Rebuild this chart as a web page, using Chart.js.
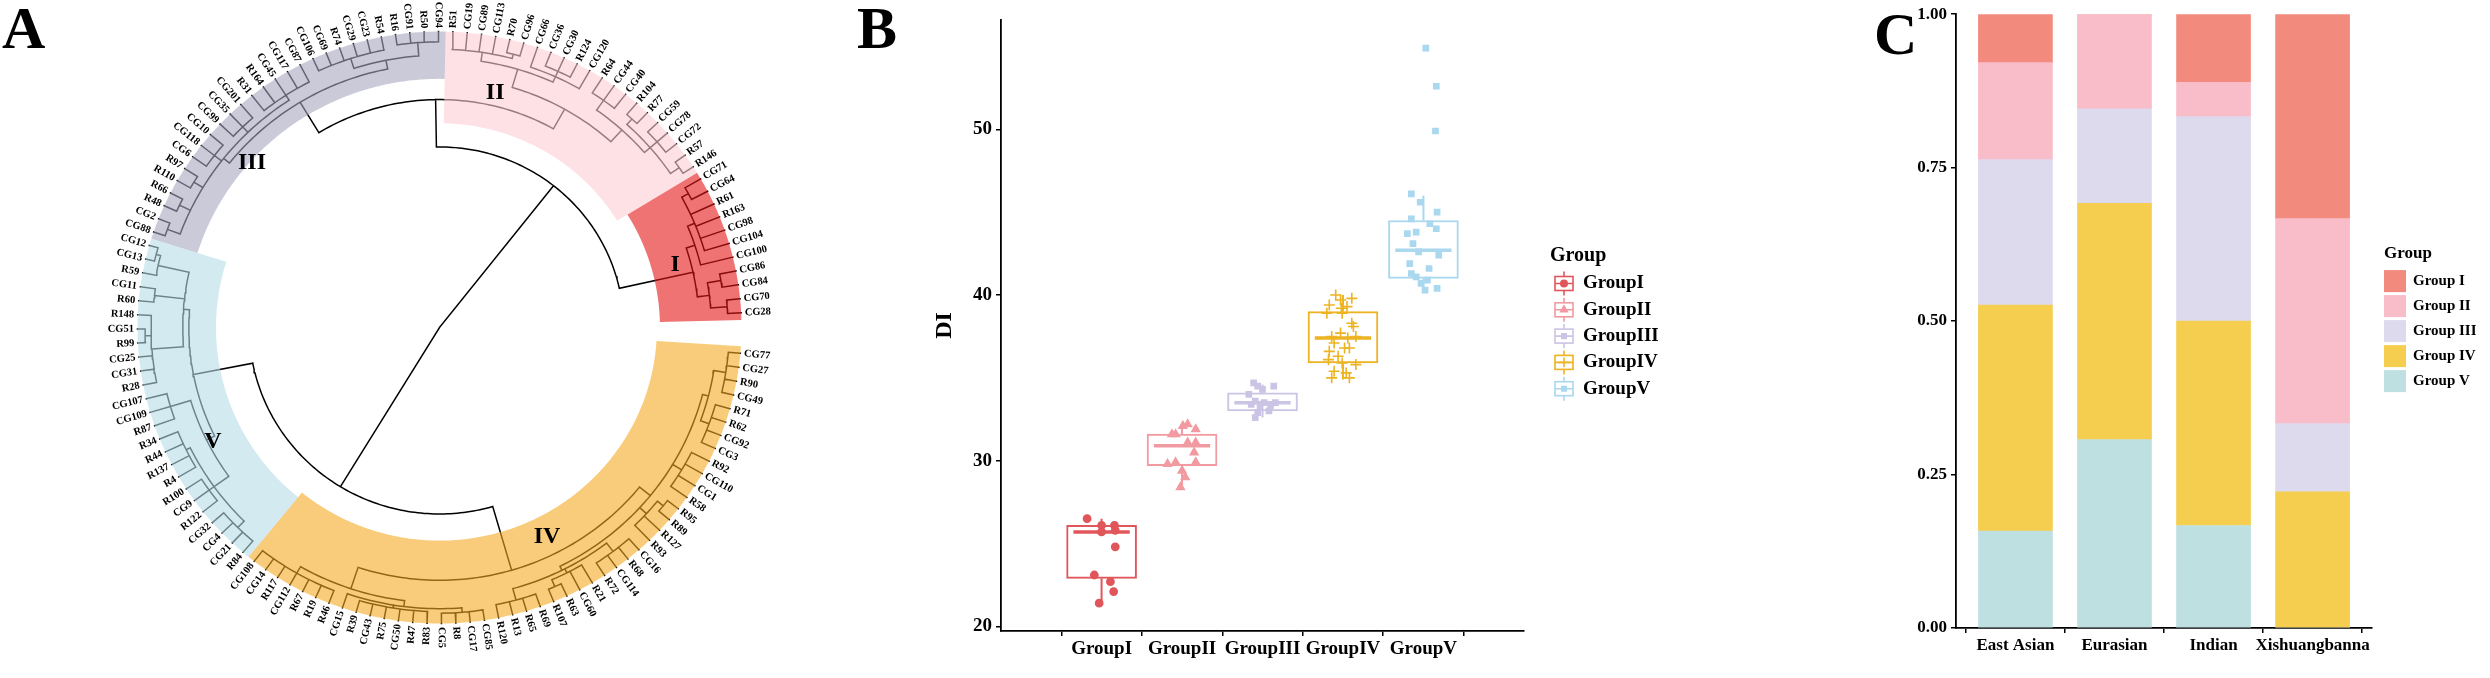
<!DOCTYPE html>
<html>
<head>
<meta charset="utf-8">
<script src="https://cdn.jsdelivr.net/npm/chart.js@4.4.1/dist/chart.umd.min.js"></script>
<style>
html, body { margin:0; padding:0; background:#fff; }
#wrap { position:relative; width:2490px; height:678px; overflow:hidden; background:#fff; }
.panel { position:absolute; top:0; height:678px; }
.tag { position:absolute; top:-2px; font:bold 60px 'Liberation Serif', serif; line-height:60px; color:#000; z-index:2; }
</style>
</head>
<body>
<div id="wrap">
  <div class="panel" style="left:0;width:800px"><canvas id="chart-A"></canvas></div>
  <div class="panel" style="left:850px;width:820px"><canvas id="chart-B"></canvas></div>
  <div class="panel" style="left:1880px;width:610px"><canvas id="chart-C"></canvas></div>
  <div class="tag" style="left:2px">A</div>
  <div class="tag" style="left:857px">B</div>
  <div class="tag" style="left:1874px;top:4px">C</div>
</div>
<script>
// ---------------- pannello A: albero circolare ----------------
// ogni nodo: [altezza (raggio, foglie = 1), figli...] ; foglie in senso orario
const treeI = [0.86,
  [0.89, [0.915, [0.94, 'CG71', 'CG64'], 'R61', 'R163', 'CG98', 'CG104'], 'CG100'],
  [0.9, [0.945, 'CG86', 'CG84'], [0.955, 'CG70', 'CG28']]];
const treeII = [0.846,
  [0.91,
    [0.94, 'R51', 'CG19', 'CG89', 'CG113', [0.955, 'R70', 'CG96']],
    [0.93, 'CG66', [0.95, 'CG36', 'CG30', 'R124'], 'CG120']],
  [0.90,
    [0.94, 'R64', 'CG44', 'CG40'],
    [0.925, [0.95, 'R104', 'R77'], [0.955, 'CG59', 'CG78', 'CG72'], [0.96, 'R57', 'R146']]]];
const treeIII = [0.89,
  [0.915,
    [0.96, 'CG88', 'CG2'], [0.955, 'R48', 'R66'], [0.95, 'R110', 'R97'],
    [0.945, 'CG6', 'CG118', 'CG10'], [0.94, 'CG99', 'CG35', 'CG201'],
    [0.935, 'R31', 'R164', 'CG45', 'CG117', 'CG87']],
  [0.92,
    [0.955, 'CG106', 'CG69', 'R74', 'CG29', 'CG23', 'R54'],
    [0.965, 'R16', 'CG91', 'R50', 'CG94']]];
const treeIV = [0.854,
  [0.90,
    [0.92, [0.96, 'CG77', 'CG27', 'R90', 'CG49'], [0.95, 'R71', 'R62', 'CG92', 'CG3']],
    [0.935, 'R92', 'CG110', 'CG1', 'R58'],
    [0.93, [0.955, 'R95', 'R89'], 'R127', 'R93'],
    [0.915, [0.95, 'CG16', 'R68', 'CG114', 'R72'], [0.93, 'R21', 'CG60', [0.955, 'R63', 'R107']],
      [0.955, 'R69', 'R65', 'R13', 'R120']]],
  [0.93,
    [0.95, [0.965, 'CG85', 'CG17', 'R8', 'CG5'], [0.96, 'R83', 'R47', 'CG50', 'R75', 'CG43', 'R39'], 'CG15'],
    [0.955, 'R46', 'R19', 'R67', 'CG112', 'R117', 'CG14', 'CG108']]];
const treeV = [0.83,
  [0.86,
    [0.92, [0.95, 'R84', 'CG21', 'CG4', 'CG32'], [0.94, 'R122', 'CG9', 'R100'], [0.935, 'R4', 'R137', 'R44', 'R34']],
    [0.93, 'R87', 'CG109', 'CG107']],
  [0.85,
    [0.955, 'R28', 'CG31', 'CG25', [0.975, 'R99', 'CG51'], 'R148'],
    [0.95, 'R60', 'CG11'],
    [0.955, 'R59', [0.97, 'CG13', 'CG12']]]];
const tree = [0, [0.63, treeIV, treeV], [0.61, [0.77, treeIII, treeII], treeI]];

const cladeNames = ['I', 'II', 'III', 'IV', 'V'];
const cladeTrees = [treeI, treeII, treeIII, treeIV, treeV];
const cladeInner = [0.73, 0.69, 0.84, 0.72, 0.74]; // raggio interno della fascia colorata

// ---------------- pannello B: boxplot DI ----------------
const groupNames = ['GroupI', 'GroupII', 'GroupIII', 'GroupIV', 'GroupV'];
const boxQ1 = [22.9, 29.7, 33.0, 35.9, 41.0];
const boxMedian = [25.7, 30.9, 33.5, 37.4, 42.7];
const boxQ3 = [26.1, 31.6, 34.1, 39.0, 44.5];
const whiskerLow = [21.4, 28.4, 32.6, 34.9, 40.2];
const whiskerHigh = [26.5, 32.2, 34.6, 40.0, 46.0];
const diTicks = [20, 30, 40, 50];
const jitterI = [0.82, 1.00, 1.00, 1.16, 1.17, 1.17, 0.91, 1.11, 1.15, 0.97];
const diI     = [26.5, 26.1, 25.7, 26.1, 25.8, 24.8, 23.1, 22.7, 22.1, 21.4];
const jitterII = [1.875, 1.92, 2.01, 2.07, 2.17, 2.07, 2.17, 2.15, 1.82, 1.92, 2.0, 2.04, 1.98, 2.17];
const diII     = [31.6, 31.6, 32.1, 32.2, 31.9, 31.1, 31.1, 30.5, 29.8, 29.9, 29.4, 29.0, 28.4, 29.9];
const jitterIII = [2.89, 2.94, 3.0, 3.14, 2.83, 2.91, 3.02, 3.10, 3.08, 2.94, 2.91, 3.16, 2.86, 2.97];
const diIII     = [34.7, 34.5, 34.3, 34.5, 34.0, 33.6, 33.5, 33.3, 33.0, 32.9, 32.6, 33.5, 33.4, 33.2];
const jitterIV = [3.91, 3.97, 4.11, 3.83, 4.05, 3.80, 3.99, 4.11, 4.13, 3.86, 3.97, 4.16, 3.89,
                  4.02, 4.08, 3.83, 3.94, 3.82, 3.99, 4.16, 3.89, 4.04, 3.86, 4.08, 3.98, 4.06];
const diIV     = [40.0, 39.7, 39.8, 39.4, 39.3, 38.9, 38.9, 38.3, 38.1, 37.5, 37.7, 37.5, 37.1,
                  36.8, 36.8, 36.6, 36.3, 36.1, 35.9, 35.8, 35.4, 35.3, 35.0, 35.0, 39.2, 37.4];
const jitterV = [5.03, 5.16, 5.15, 4.85, 4.96, 5.17, 4.85, 5.08, 5.16, 4.80, 4.91, 4.87, 4.94,
                 5.19, 4.83, 5.07, 4.85, 4.91, 5.05, 4.97, 5.02, 5.17];
const diV     = [54.9, 52.6, 49.9, 46.1, 45.6, 45.0, 44.6, 44.3, 44.0, 43.7, 43.8, 43.1, 42.6,
                 42.4, 41.9, 41.6, 41.3, 41.1, 40.9, 40.7, 40.3, 40.4];

// ---------------- pannello C: proporzioni per regione ----------------
const regions = ['East Asian', 'Eurasian', 'Indian', 'Xishuangbanna'];
const stackGroups = ['Group I', 'Group II', 'Group III', 'Group IV', 'Group V'];
const shareI   = [0.079, 0.000, 0.111, 0.333];
const shareII  = [0.158, 0.154, 0.056, 0.334];
const shareIII = [0.237, 0.154, 0.333, 0.111];
const shareIV  = [0.368, 0.385, 0.333, 0.222];
const shareV   = [0.158, 0.307, 0.167, 0.000];
const shareTicks = [0, 0.25, 0.5, 0.75, 1];

// ---------------- stile ----------------
Chart.defaults.font.family = "'Liberation Serif', 'Times New Roman', serif";
Chart.defaults.color = '#000';
const serif = "'Liberation Serif', 'Times New Roman', serif";
const cladeFill = ['rgba(228,22,22,0.6)', 'rgba(252,205,212,0.6)', 'rgba(168,167,192,0.6)',
                   'rgba(245,170,35,0.6)', 'rgba(183,220,232,0.6)'];
const groupColors = ['#E0565B', '#F29AA1', '#CBC4E4', '#EDB321', '#A9D8EF'];
const groupShapes = ['circle', 'triangle', 'rect', 'cross', 'rect'];
const groupDotSize = [3.6, 4.4, 3.6, 5.5, 3.6];
const stackColors = ['#F28B7D', '#F9BCC9', '#DEDAEE', '#F5CE4F', '#BFE0E1'];

const leafStart = -5;   // angolo (gradi) della prima foglia, CG77
const leafStep = 2.73;  // passo in senso orario tra le foglie

// ---- disposizione dell'albero ----
function leavesOf(node, out = []) {
  if (typeof node === 'string') out.push(node);
  else node.slice(1).forEach(k => leavesOf(k, out));
  return out;
}
const leafOrder = leavesOf(tree);
const leafAngle = {};
leafOrder.forEach((n, j) => leafAngle[n] = leafStart - j * leafStep);

function nodeAngle(node) {
  if (typeof node === 'string') return leafAngle[node];
  const k = node.slice(1);
  return (nodeAngle(k[0]) + nodeAngle(k[k.length - 1])) / 2;
}
function nodeR(node) { return typeof node === 'string' ? 1 : node[0]; }
function polar(r, deg) {
  const t = deg * Math.PI / 180;
  return {x: r * Math.cos(t), y: r * Math.sin(t)};
}
const GAP = {x: null, y: null};

function branchPoints(node, out) {
  if (typeof node === 'string') return out;
  const h = node[0], kids = node.slice(1);
  const a1 = nodeAngle(kids[0]), a2 = nodeAngle(kids[kids.length - 1]);
  if (h > 0) { // arco che unisce i figli
    const n = Math.max(2, Math.ceil(Math.abs(a1 - a2)));
    for (let i = 0; i <= n; i++) out.push(polar(h, a1 + (a2 - a1) * i / n));
    out.push(GAP);
  }
  kids.forEach(k => {
    const a = nodeAngle(k);
    out.push(polar(h, a), polar(nodeR(k), a), GAP);
    branchPoints(k, out);
  });
  return out;
}

const cladeLabelAt = [[0.808, 15.1], [0.813, 76.9], [0.833, 138.2], [0.792, -63.3], [0.844, 207.3]];

const cladePlugin = {
  id: 'clades',
  afterDatasetsDraw(chart) {
    const ctx = chart.ctx, xs = chart.scales.x, ys = chart.scales.y;
    const toPx = (r, a) => { const p = polar(r, a); return [xs.getPixelForValue(p.x), ys.getPixelForValue(p.y)]; };
    ctx.save();
    // fasce colorate sopra i rami
    cladeTrees.forEach((t, i) => {
      const names = leavesOf(t);
      const a1 = leafAngle[names[0]] + leafStep / 2;
      const a2 = leafAngle[names[names.length - 1]] - leafStep / 2;
      const n = Math.ceil(Math.abs(a1 - a2)) * 2;
      ctx.beginPath();
      for (let k = 0; k <= n; k++) {
        const [x, y] = toPx(1.0, a1 + (a2 - a1) * k / n);
        if (k) ctx.lineTo(x, y); else ctx.moveTo(x, y);
      }
      for (let k = n; k >= 0; k--) {
        const [x, y] = toPx(cladeInner[i], a1 + (a2 - a1) * k / n);
        ctx.lineTo(x, y);
      }
      ctx.closePath();
      ctx.fillStyle = cladeFill[i];
      ctx.fill();
    });
    // etichette delle foglie
    ctx.fillStyle = '#000';
    ctx.font = 'bold 10.5px ' + serif;
    ctx.textBaseline = 'middle';
    leafOrder.forEach(name => {
      const a = leafAngle[name];
      const an = ((a % 360) + 540) % 360 - 180;
      const [x, y] = toPx(1.012, a);
      ctx.save();
      ctx.translate(x, y);
      if (an > -90 && an <= 90) { ctx.rotate(-an * Math.PI / 180); ctx.textAlign = 'left'; }
      else { ctx.rotate((180 - an) * Math.PI / 180); ctx.textAlign = 'right'; }
      ctx.fillText(name, 0, 0);
      ctx.restore();
    });
    // numeri romani dei cluster
    ctx.font = 'bold 24px ' + serif;
    ctx.textAlign = 'center';
    cladeNames.forEach((c, i) => {
      const [x, y] = toPx(cladeLabelAt[i][0], cladeLabelAt[i][1]);
      ctx.fillText(c, x, y);
    });
    ctx.restore();
  }
};

// centro (439.5, 327.5) px, raggio 302 px in x e 296 px in y
new Chart(document.getElementById('chart-A'), {
  type: 'scatter',
  data: {
    datasets: [{
      data: branchPoints(tree, []),
      showLine: true,
      spanGaps: false,
      borderColor: '#000',
      borderWidth: 1.5,
      borderCapStyle: 'square',
      pointRadius: 0
    }]
  },
  options: {
    responsive: true,
    maintainAspectRatio: false,
    animation: false,
    devicePixelRatio: 1,
    layout: {padding: 0},
    plugins: {legend: {display: false}, tooltip: {enabled: false}},
    scales: {
      x: {type: 'linear', display: false, min: -439.5 / 302, max: 360.5 / 302},
      y: {type: 'linear', display: false, min: -350.5 / 296, max: 327.5 / 296}
    }
  },
  plugins: [cladePlugin]
});

// ---- pannello B ----
function drawDot(ctx, style, x, y, r, color) {
  ctx.fillStyle = color;
  ctx.strokeStyle = color;
  ctx.lineWidth = 1.5;
  if (Chart.helpers && Chart.helpers.drawPoint) {
    Chart.helpers.drawPoint(ctx, {pointStyle: style, radius: r, borderWidth: 1.5, rotation: 0}, x, y);
  } else {
    ctx.beginPath(); ctx.arc(x, y, r, 0, Math.PI * 2); ctx.fill();
  }
}

const axisLook = {
  grid: {drawOnChartArea: false, drawTicks: true, tickLength: 5, color: '#000', lineWidth: 1.5},
  border: {color: '#000', width: 1.8}
};

const legendBox = {
  id: 'legendBox',
  afterDraw(chart) {
    const ctx = chart.ctx, area = chart.chartArea;
    const mid = (area.top + area.bottom) / 2;
    const x0 = area.right + 26;
    ctx.save();
    ctx.textBaseline = 'middle';
    ctx.textAlign = 'left';
    ctx.fillStyle = '#000';
    ctx.font = 'bold 20px ' + serif;
    ctx.fillText('Group', x0, mid - 70);
    groupNames.forEach((g, i) => {
      const cy = mid - 42 + i * 26.3, cx = x0 + 14, c = groupColors[i];
      ctx.strokeStyle = c;
      ctx.lineWidth = 1.6;
      ctx.strokeRect(cx - 9, cy - 7, 18, 14);
      ctx.beginPath();
      ctx.moveTo(cx - 9, cy); ctx.lineTo(cx + 9, cy);
      ctx.moveTo(cx, cy - 7); ctx.lineTo(cx, cy - 12);
      ctx.moveTo(cx, cy + 7); ctx.lineTo(cx, cy + 12);
      ctx.stroke();
      drawDot(ctx, groupShapes[i], cx, cy, groupDotSize[i] * 0.9, c);
      ctx.fillStyle = '#000';
      ctx.font = 'bold 19px ' + serif;
      ctx.fillText(g, x0 + 33, cy);
    });
    ctx.restore();
  }
};

const jitterX = [jitterI, jitterII, jitterIII, jitterIV, jitterV];
const jitterY = [diI, diII, diIII, diIV, diV];
const boxSets = [{
  type: 'bar',
  data: groupNames.map((g, i) => ({x: i + 1, y: [boxQ1[i], boxQ3[i]]})),
  backgroundColor: '#ffffff',
  borderColor: groupColors,
  borderWidth: 2,
  borderSkipped: false,
  barThickness: 70,
  order: 2
}];
groupNames.forEach((g, i) => {
  const x = i + 1;
  boxSets.push({
    type: 'scatter', showLine: true, pointRadius: 0, order: 1,
    borderColor: groupColors[i], borderWidth: 2,
    data: [{x, y: boxQ3[i]}, {x, y: whiskerHigh[i]}, GAP, {x, y: boxQ1[i]}, {x, y: whiskerLow[i]}]
  });
  boxSets.push({
    type: 'scatter', showLine: true, pointRadius: 0, order: 1,
    borderColor: groupColors[i], borderWidth: 3.5,
    data: [{x: x - 0.35, y: boxMedian[i]}, {x: x + 0.35, y: boxMedian[i]}]
  });
  boxSets.push({
    type: 'scatter', label: g, order: 0,
    data: jitterX[i].map((px, k) => ({x: px, y: jitterY[i][k]})),
    pointStyle: groupShapes[i], pointRadius: groupDotSize[i],
    backgroundColor: groupColors[i], borderColor: groupColors[i], borderWidth: 1.6
  });
});

new Chart(document.getElementById('chart-B'), {
  type: 'scatter',
  data: {datasets: boxSets},
  options: {
    responsive: true,
    maintainAspectRatio: false,
    animation: false,
    devicePixelRatio: 1,
    layout: {padding: {left: 80, top: 20, right: 146, bottom: 0}},
    plugins: {legend: {display: false}, tooltip: {enabled: false}},
    scales: {
      x: {
        type: 'linear', min: 0.4, max: 5.6,
        afterBuildTicks: a => { a.ticks = groupNames.map((g, i) => ({value: i + 1})); },
        afterFit: a => { a.height = 47; },
        ticks: {callback: v => groupNames[v - 1], font: {size: 19, weight: 'bold'}, color: '#000',
                padding: 2, autoSkip: false, maxRotation: 0},
        ...axisLook
      },
      y: {
        type: 'linear', min: 19.72, max: 56.6,
        afterBuildTicks: a => { a.ticks = diTicks.map(v => ({value: v})); },
        afterFit: a => { a.width = 71; },
        title: {display: true, text: 'DI', font: {size: 24, weight: 'bold'}, color: '#000', padding: {top: 0, bottom: 0}},
        ticks: {font: {size: 19, weight: 'bold'}, color: '#000', padding: 4},
        ...axisLook
      }
    }
  },
  plugins: [legendBox]
});

// ---- pannello C ----
const legendStack = {
  id: 'legendStack',
  afterDraw(chart) {
    const ctx = chart.ctx, area = chart.chartArea;
    const mid = (area.top + area.bottom) / 2;
    const x0 = area.right + 12;
    ctx.save();
    ctx.textBaseline = 'middle';
    ctx.textAlign = 'left';
    ctx.fillStyle = '#000';
    ctx.font = 'bold 17px ' + serif;
    ctx.fillText('Group', x0, mid - 67);
    stackGroups.forEach((g, i) => {
      const cy = mid - 40 + i * 25;
      ctx.fillStyle = stackColors[i];
      ctx.fillRect(x0, cy - 11, 22, 22);
      ctx.fillStyle = '#000';
      ctx.font = 'bold 15px ' + serif;
      ctx.fillText(g, x0 + 29, cy);
    });
    ctx.restore();
  }
};

const shares = [shareI, shareII, shareIII, shareIV, shareV];
// Group V in basso, Group I in cima
const stackSets = [4, 3, 2, 1, 0].map(i => ({
  type: 'bar',
  label: stackGroups[i],
  data: regions.map((r, k) => ({x: k + 1, y: shares[i][k]})),
  backgroundColor: stackColors[i],
  borderWidth: 0,
  barThickness: 74
}));

new Chart(document.getElementById('chart-C'), {
  type: 'bar',
  data: {datasets: stackSets},
  options: {
    responsive: true,
    maintainAspectRatio: false,
    animation: false,
    devicePixelRatio: 1,
    layout: {padding: {left: 0, top: 14, right: 118, bottom: 0}},
    plugins: {legend: {display: false}, tooltip: {enabled: false}},
    scales: {
      x: {
        type: 'linear', stacked: true, min: 0.4, max: 4.6, offset: false,
        afterBuildTicks: a => { a.ticks = regions.map((r, i) => ({value: i + 1})); },
        afterFit: a => { a.height = 50; },
        ticks: {callback: v => regions[v - 1], font: {size: 17, weight: 'bold'}, color: '#000',
                padding: 2, autoSkip: false, maxRotation: 0},
        ...axisLook
      },
      y: {
        type: 'linear', stacked: true, min: 0, max: 1,
        afterBuildTicks: a => { a.ticks = shareTicks.map(v => ({value: v})); },
        afterFit: a => { a.width = 76; },
        ticks: {callback: v => v.toFixed(2), font: {size: 17, weight: 'bold'}, color: '#000', padding: 4},
        ...axisLook
      }
    }
  },
  plugins: [legendStack]
});
</script>
</body>
</html>
